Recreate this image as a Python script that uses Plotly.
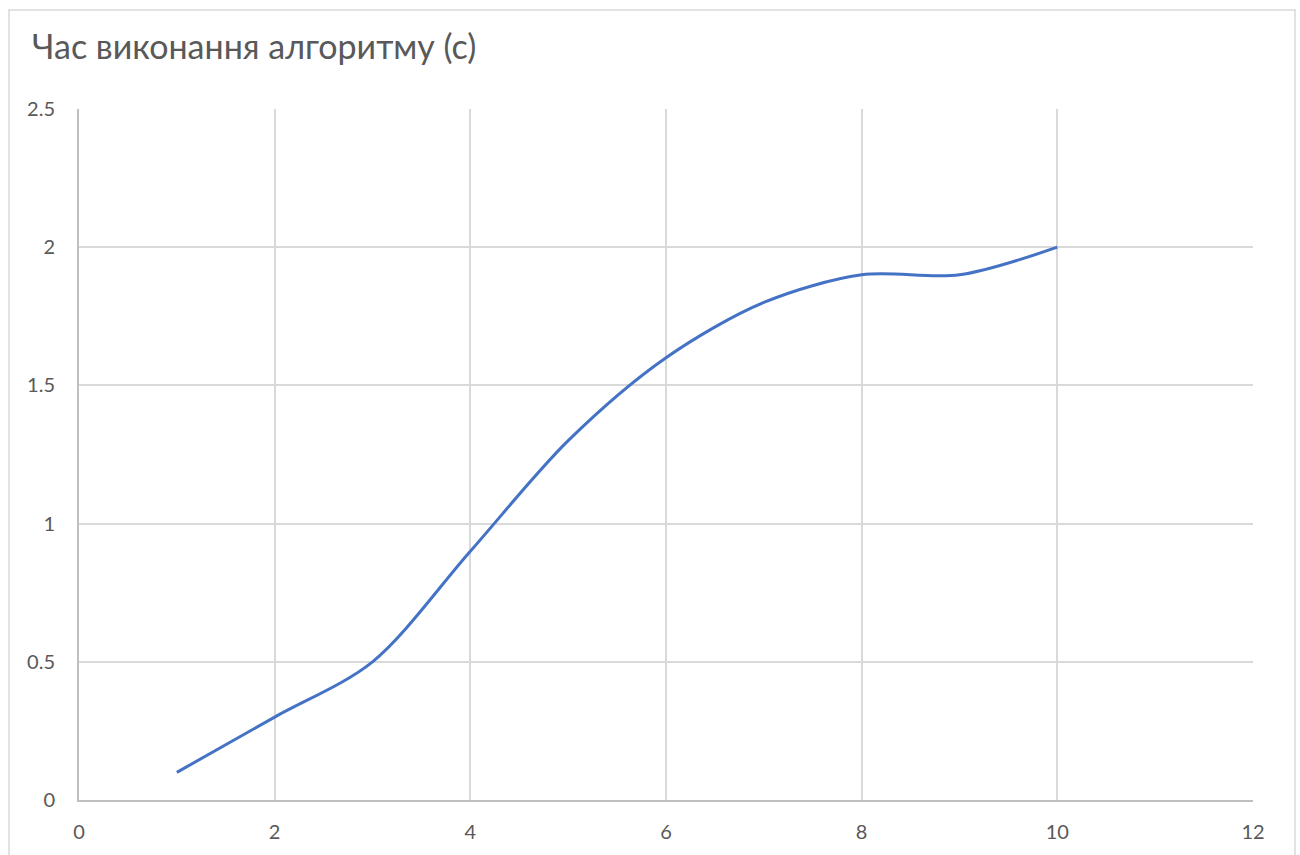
import plotly.graph_objects as go

# Data
x_values = [1, 2, 3, 4, 5, 6, 7, 8, 9, 10]
y_values = [0.1, 0.3, 0.5, 0.9, 1.3, 1.6, 1.8, 1.9, 1.9, 2.0]
x_ticks = [0, 2, 4, 6, 8, 10, 12]
y_ticks = [0, 0.5, 1, 1.5, 2, 2.5]
y_tick_labels = ["0", "0.5", "1", "1.5", "2", "2.5"]
title_text = "Час виконання алгоритму (с)"

W, H = 1300, 855
L, R, T, B = 79, 47, 109, 55
pw, ph = W - L - R, H - T - B

def px_to_paper_x(px):
    return (px - L) / pw

def px_to_paper_y(py):
    return (H - B - py) / ph

fig = go.Figure()
fig.add_trace(go.Scatter(
    x=x_values, y=y_values, mode="lines",
    line=dict(color="#4472C4", width=3, shape="spline", smoothing=0.9),
    hoverinfo="x+y", showlegend=False,
))

font_family = "Lato, 'Open Sans', sans-serif"
fig.update_layout(
    width=W, height=H,
    margin=dict(l=L, r=R, t=T, b=B),
    paper_bgcolor="white", plot_bgcolor="white",
    font=dict(family=font_family, color="#595959", size=20),
    title=dict(text=title_text, xref="container", yref="container",
               x=32 / W, xanchor="left", y=1 - 47 / H, yanchor="middle",
               font=dict(size=34, color="#595959", family=font_family)),
    xaxis=dict(range=[0, 12], tickvals=x_ticks,
               showgrid=True, gridcolor="#D9D9D9", gridwidth=1.5,
               zeroline=False, showline=True, linecolor="#BFBFBF", linewidth=2,
               ticks="", ticklabelstandoff=13, fixedrange=True),
    yaxis=dict(range=[0, 2.5], tickvals=y_ticks, ticktext=y_tick_labels,
               showgrid=True, gridcolor="#D9D9D9", gridwidth=1.5,
               zeroline=False, showline=True, linecolor="#BFBFBF", linewidth=2,
               ticks="", ticklabelstandoff=18, fixedrange=True),
    shapes=[dict(type="rect", xref="paper", yref="paper",
                 x0=px_to_paper_x(9), x1=px_to_paper_x(1295),
                 y0=px_to_paper_y(870), y1=px_to_paper_y(10),
                 line=dict(color="#D9D9D9", width=1.5), fillcolor="rgba(0,0,0,0)",
                 layer="below")],
)

fig.write_html("out.html")
